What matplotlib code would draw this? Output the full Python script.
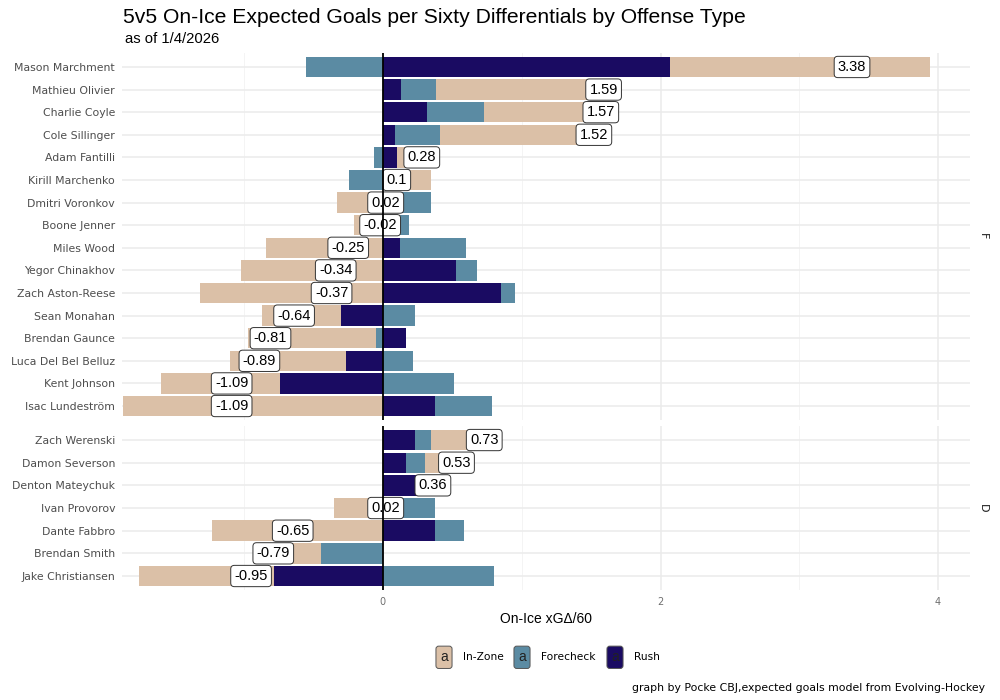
import numpy as np
import matplotlib
matplotlib.use("Agg")
import matplotlib.pyplot as plt

plt.rcParams['font.family'] = ['Liberation Sans', 'DejaVu Sans']

# forwards, top to bottom
names_f = ["Mason Marchment", "Mathieu Olivier", "Charlie Coyle", "Cole Sillinger",
           "Adam Fantilli", "Kirill Marchenko", "Dmitri Voronkov", "Boone Jenner",
           "Miles Wood", "Yegor Chinakhov", "Zach Aston-Reese", "Sean Monahan",
           "Brendan Gaunce", "Luca Del Bel Belluz", "Kent Johnson", "Isac Lundeström"]
inzone_f = [1.87, 1.21, 0.84, 1.11, 0.24, 0.345, -0.33, -0.21,
            -0.845, -1.02, -1.32, -0.57, -0.925, -0.84, -0.86, -1.87]
forecheck_f = [-0.555, 0.25, 0.41, 0.325, -0.065, -0.245, 0.35, 0.125,
               0.475, 0.15, 0.10, 0.23, -0.05, 0.215, 0.51, 0.41]
rush_f = [2.07, 0.13, 0.32, 0.085, 0.105, 0.0, 0.0, 0.065,
          0.12, 0.53, 0.85, -0.30, 0.165, -0.265, -0.74, 0.375]
totals_f = [3.38, 1.59, 1.57, 1.52, 0.28, 0.1, 0.02, -0.02,
            -0.25, -0.34, -0.37, -0.64, -0.81, -0.89, -1.09, -1.09]

# defense
names_d = ["Zach Werenski", "Damon Severson", "Denton Mateychuk", "Ivan Provorov",
           "Dante Fabbro", "Brendan Smith", "Jake Christiansen"]
inzone_d = [0.385, 0.225, 0.0, -0.355, -1.235, -0.345, -0.97]
forecheck_d = [0.115, 0.14, 0.0, 0.285, 0.21, -0.445, 0.80]
rush_d = [0.23, 0.165, 0.36, 0.09, 0.375, 0.0, -0.785]
totals_d = [0.73, 0.53, 0.36, 0.02, -0.65, -0.79, -0.95]

types = ["In-Zone", "Forecheck", "Rush"]
colors = {"In-Zone": "#dbc0a7", "Forecheck": "#5b8ba3", "Rush": "#1a0b62"}
small = ['DejaVu Sans']

fig = plt.figure(figsize=(10, 7), dpi=100)
ax_f = fig.add_axes([0.122, 0.4006, 0.848, 0.5231])
ax_d = fig.add_axes([0.122, 0.1577, 0.848, 0.2331])


def draw_panel(ax, names, inzone, forecheck, rush, totals, strip, show_x):
    n = len(names)
    y = np.arange(n)
    pos = np.zeros(n)
    neg = np.zeros(n)
    # Rush sits next to zero, then Forecheck, In-Zone outermost
    for key, vals in [("Rush", rush), ("Forecheck", forecheck), ("In-Zone", inzone)]:
        v = np.array(vals, dtype=float)
        left = np.where(v >= 0, pos, neg)
        ax.barh(y, v, left=left, height=0.9, color=colors[key], zorder=2)
        pos = pos + np.clip(v, 0, None)
        neg = neg + np.clip(v, None, 0)
    for yi, t in zip(y, totals):
        ax.text(t, yi, f"{t:g}", ha="center", va="center", fontsize=10.5, zorder=4,
                bbox=dict(boxstyle="round,pad=0.25,rounding_size=0.25", fc="white",
                          ec="#333333", lw=0.7))
    ax.axvline(0, color="black", lw=1.3, zorder=5)
    ax.set_xlim(-1.88, 4.23)
    ax.set_ylim(n - 0.4, -0.6)
    ax.set_yticks(y)
    ax.set_yticklabels(names, fontsize=7.8, color="#4d4d4d", family=small)
    ax.set_xticks([0, 2, 4])
    ax.set_xticks([-1, 1, 3], minor=True)
    ax.grid(True, which="major", color="#ebebeb", lw=1.1, zorder=0)
    ax.grid(True, which="minor", axis="x", color="#f2f2f2", lw=0.6, zorder=0)
    ax.set_axisbelow(True)
    ax.tick_params(which="both", length=0, pad=5)
    if show_x:
        ax.set_xticklabels(["0", "2", "4"], fontsize=7, color="#6e6e6e", family=small)
    else:
        ax.set_xticklabels([])
    for s in ax.spines.values():
        s.set_visible(False)
    ax.text(1.015, 0.5, strip, transform=ax.transAxes, rotation=-90,
            ha="center", va="center", fontsize=8, color="#1a1a1a", family=small)


draw_panel(ax_f, names_f, inzone_f, forecheck_f, rush_f, totals_f, "F", False)
draw_panel(ax_d, names_d, inzone_d, forecheck_d, rush_d, totals_d, "D", True)

ax_d.set_xlabel("On-Ice xGΔ/60", fontsize=10, labelpad=4)

fig.text(0.123, 0.975, "5v5 On-Ice Expected Goals per Sixty Differentials by Offense Type",
         fontsize=15.2, va="center", ha="left")
fig.text(0.125, 0.944, "as of 1/4/2026", fontsize=10.7, va="center", ha="left")

# legend keys styled like label boxes
key_x = [0.444, 0.522, 0.615]
for kx, t in zip(key_x, types):
    fig.text(kx, 0.061, "a", ha="center", va="center", fontsize=10,
             color="#222222",
             bbox=dict(boxstyle="round,pad=0.3,rounding_size=0.2",
                       fc=colors[t], ec="#555555", lw=0.7))
    fig.text(kx + 0.019, 0.061, t, ha="left", va="center", fontsize=7.7, family=small)

fig.text(0.985, 0.017, "graph by Pocke CBJ,expected goals model from Evolving-Hockey",
         ha="right", va="center", fontsize=7.8, family=small)

fig.savefig("out.png", dpi=100)
